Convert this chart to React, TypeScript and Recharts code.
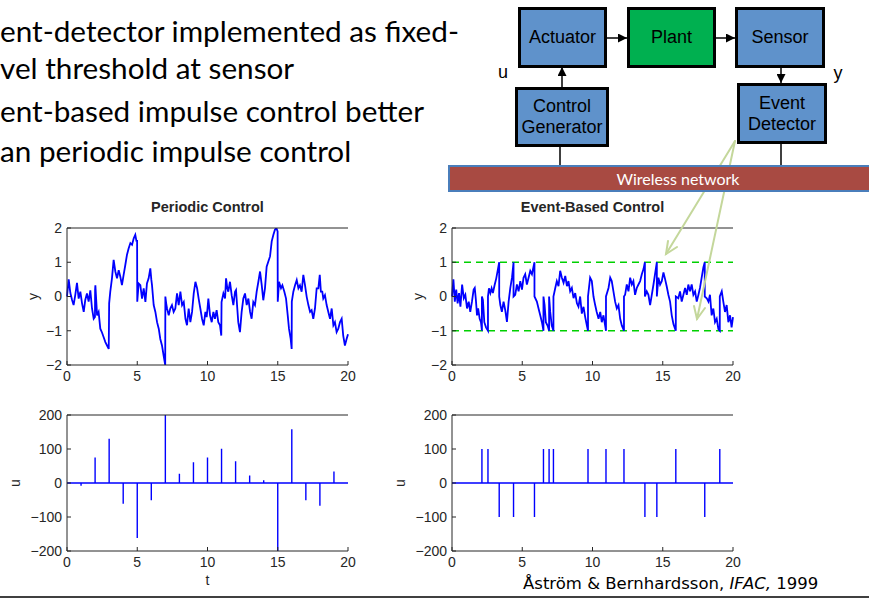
import React from 'react';
import { LineChart, Line, XAxis, YAxis, ReferenceLine, Label } from 'recharts';

// Sampled plant output y(t) under periodic impulse control (period 1)
const periodicOutput: [number, number][] = [
  [0.0, 0.0], [0.12, 0.5], [0.24, 0.1], [0.36, -0.1], [0.47, -0.25], [0.59, 0.05], [0.71, 0.4], [0.83, -0.06],
  [0.95, 0.14], [1.07, -0.2], [1.19, -0.45], [1.3, -0.1], [1.42, 0.09], [1.54, -0.15], [1.66, 0.18], [1.78, -0.35],
  [1.9, -0.65], [1.99, -0.6], [2.0, 0.2], [2.02, 0.33], [2.14, -0.55], [2.25, -0.45], [2.37, -0.94], [2.49, -1.05],
  [2.61, -1.19], [2.73, -1.33], [2.85, -1.43], [2.97, -1.53], [3.0, -0.2], [3.08, 0.14], [3.2, 0.53], [3.32, 1.07],
  [3.44, 0.73], [3.56, 0.53], [3.68, 0.77], [3.8, 0.57], [3.91, 0.33], [4.03, 0.63], [4.15, 0.92], [4.27, 1.22],
  [4.39, 1.41], [4.51, 1.56], [4.63, 1.51], [4.75, 1.7], [4.86, 1.8], [4.95, 1.6], [4.99, 1.65], [5.0, -0.15],
  [5.1, 0.38], [5.22, 0.33], [5.34, -0.06], [5.46, 0.24], [5.58, -0.16], [5.69, 0.38], [5.81, 0.53], [5.93, 0.82],
  [6.0, 0.5], [6.05, 0.33], [6.17, -0.25], [6.29, -0.45], [6.41, -0.75], [6.53, -0.94], [6.64, -1.24], [6.76, -1.43],
  [6.88, -1.73], [6.99, -2.0], [7.0, 0.0], [7.06, -0.2], [7.12, -0.35], [7.24, -0.55], [7.35, -0.35], [7.47, -0.25],
  [7.59, -0.45], [7.71, -0.35], [7.83, 0.09], [7.95, -0.25], [8.07, 0.14], [8.19, -0.25], [8.31, -0.16], [8.43, -0.65],
  [8.54, -0.84], [8.66, -0.35], [8.78, -0.75], [8.9, -0.45], [9.02, 0.09], [9.14, 0.43], [9.26, 0.24], [9.37, -0.06],
  [9.49, -0.35], [9.61, -0.65], [9.73, -0.84], [9.85, -0.45], [9.94, -0.6], [10.0, -0.35], [10.06, -0.06], [10.18, -0.55],
  [10.3, -0.75], [10.42, -0.45], [10.53, -0.65], [10.65, -0.4], [10.77, -0.75], [10.89, -0.84], [10.98, -1.14], [11.0, -0.16],
  [11.13, 0.09], [11.25, -0.06], [11.32, 0.53], [11.41, 0.24], [11.48, 0.14], [11.6, 0.43], [11.72, 0.04], [11.84, -0.25],
  [11.96, 0.14], [12.03, 0.19], [12.12, -0.35], [12.19, -0.75], [12.31, -1.04], [12.43, -0.45], [12.55, -0.06], [12.67, 0.09],
  [12.79, -0.25], [12.91, -0.06], [13.03, -0.45], [13.14, -0.65], [13.26, -0.16], [13.38, -0.25], [13.5, 0.14], [13.62, 0.43],
  [13.74, 0.73], [13.86, 0.33], [13.97, -0.11], [14.09, 0.24], [14.21, 0.87], [14.33, 1.02], [14.45, 1.17], [14.57, 1.61],
  [14.69, 1.8], [14.8, 1.95], [14.9, 2.0], [14.99, 1.9], [15.0, -0.15], [15.09, 0.43], [15.23, 0.24], [15.33, 0.33],
  [15.47, 0.14], [15.59, -0.06], [15.71, -0.55], [15.8, -0.94], [15.92, -1.24], [15.99, -1.53], [16.0, -0.15], [16.11, 0.14],
  [16.23, 0.33], [16.35, 0.48], [16.47, 0.24], [16.58, 0.33], [16.7, 0.14], [16.82, 0.63], [16.94, 0.33], [17.06, -0.01],
  [17.18, -0.25], [17.3, -0.45], [17.41, -0.4], [17.53, -0.65], [17.65, -0.35], [17.77, 0.24], [17.89, 0.24], [17.99, 0.63],
  [18.07, 0.14], [18.17, 0.14], [18.24, -0.06], [18.36, 0.04], [18.48, -0.25], [18.6, -0.45], [18.72, -0.65], [18.84, -0.35],
  [18.96, -0.84], [19.07, -0.75], [19.19, -1.04], [19.31, -0.94], [19.43, -0.75], [19.55, -0.65], [19.66, -1.14], [19.78, -1.43],
  [19.9, -1.24], [20.0, -1.1],
];

// Plant output y(t) when an impulse is fired each time |y| reaches 1
const eventOutput: [number, number][] = [
  [0.0, 0.0], [0.1, 0.5], [0.2, -0.15], [0.3, 0.2], [0.4, -0.2], [0.5, 0.1], [0.6, -0.3], [0.72, 0.35],
  [0.84, -0.05], [0.95, 0.05], [1.07, -0.35], [1.19, -0.15], [1.3, -0.45], [1.42, -0.15], [1.54, 0.2], [1.62, 0.25],
  [1.7, -0.1], [1.78, -0.55], [1.86, -0.35], [1.97, -0.65], [2.06, -0.75], [2.13, -1.0], [2.13, 0.0], [2.2, -0.1],
  [2.3, -0.75], [2.42, -0.9], [2.56, -1.0], [2.56, 0.0], [2.63, 0.24], [2.73, 0.1], [2.82, 0.24], [2.91, 0.1],
  [3.03, 0.33], [3.15, 0.53], [3.27, 0.8], [3.36, 1.0], [3.36, 0.0], [3.44, -0.25], [3.55, -0.45], [3.67, -0.15],
  [3.79, -0.4], [3.91, -0.74], [4.03, -0.15], [4.15, 0.25], [4.27, 0.55], [4.38, 1.0], [4.38, 0.0], [4.5, 0.05],
  [4.62, 0.35], [4.74, 0.15], [4.86, 0.45], [4.98, 0.2], [5.09, 0.55], [5.21, 0.65], [5.33, 0.35], [5.45, 0.55],
  [5.57, 0.75], [5.69, 0.65], [5.87, 1.0], [5.87, 0.0], [6.04, -0.15], [6.16, -0.35], [6.28, -0.55], [6.4, -0.75],
  [6.51, -1.0], [6.51, 0.0], [6.59, -0.25], [6.68, -0.75], [6.8, -0.85], [6.91, -1.0], [6.91, 0.0], [6.99, -0.45],
  [7.1, -0.85], [7.22, -1.0], [7.22, 0.0], [7.35, 0.25], [7.46, 0.45], [7.58, 0.3], [7.7, 0.75], [7.82, 0.55],
  [7.94, 0.4], [8.06, 0.6], [8.18, 0.3], [8.29, 0.45], [8.41, 0.15], [8.53, 0.25], [8.65, -0.05], [8.77, 0.1],
  [8.89, -0.2], [9.0, -0.3], [9.12, 0.0], [9.24, -0.5], [9.36, -0.3], [9.48, -0.6], [9.6, -0.85], [9.68, -1.0],
  [9.68, 0.0], [9.83, 0.55], [9.95, 0.45], [10.07, 0.0], [10.19, -0.25], [10.3, -0.45], [10.43, -0.65], [10.55, -0.45],
  [10.66, -0.75], [10.78, -0.55], [10.9, -0.85], [10.96, -1.0], [10.96, 0.0], [11.14, 0.25], [11.26, 0.55], [11.37, 0.45],
  [11.49, 0.15], [11.61, -0.15], [11.73, -0.35], [11.85, -0.25], [11.97, -0.65], [12.09, -0.85], [12.24, -1.0], [12.24, 0.0],
  [12.32, 0.05], [12.44, 0.35], [12.56, 0.15], [12.68, 0.55], [12.8, 0.35], [12.91, 0.45], [13.03, 0.05], [13.15, 0.25],
  [13.27, 0.35], [13.39, 0.45], [13.51, 0.65], [13.63, 0.8], [13.73, 1.0], [13.73, 0.0], [13.86, 0.15], [13.98, 0.05],
  [14.1, -0.25], [14.22, 0.05], [14.34, 0.35], [14.45, 0.65], [14.58, 1.0], [14.58, 0.0], [14.69, 0.55], [14.81, 0.35],
  [14.93, 0.45], [15.05, 0.7], [15.17, 0.5], [15.28, 0.3], [15.4, 0.05], [15.52, -0.15], [15.64, -0.55], [15.76, -0.8],
  [15.88, -0.95], [15.93, -1.0], [15.93, 0.0], [16.11, -0.05], [16.23, 0.15], [16.35, -0.15], [16.47, 0.05], [16.59, 0.25],
  [16.71, 0.05], [16.82, 0.35], [16.94, 0.15], [17.06, 0.35], [17.18, 0.05], [17.3, 0.15], [17.42, -0.15], [17.54, 0.05],
  [17.65, 0.25], [17.77, 0.55], [17.89, 0.85], [17.99, 1.0], [17.99, 0.0], [18.13, -0.05], [18.25, -0.15], [18.36, 0.05],
  [18.48, -0.55], [18.6, -0.35], [18.72, -0.75], [18.84, -0.65], [18.96, -0.95], [19.06, -1.0], [19.06, 0.0], [19.2, 0.15],
  [19.31, -0.15], [19.43, -0.45], [19.55, -0.25], [19.67, -0.75], [19.79, -0.55], [19.9, -0.9], [20.0, -0.6],
];

// Control impulses u(t)
const periodicImpulseTimes = [1, 2, 3, 4, 5, 6, 7, 8, 9, 10, 11, 12, 13, 14, 15, 16, 17, 18, 19];
const periodicImpulses = [-8, 75, 130, -61, -162, -51, 200, 27, 61, 75, 101, 64, 22, 8, -200, 158, -51, -67, 34];
const eventImpulseTimes = [2.13, 2.56, 3.36, 4.38, 5.87, 6.51, 6.91, 7.22, 9.68, 10.96, 12.24, 13.73, 14.58, 15.93, 17.99, 19.06];
const eventImpulses = [100, 100, -100, -100, -100, 100, 100, 100, 100, 100, 100, -100, -100, 100, -100, 100];

const tTicks = [0, 5, 10, 15, 20];
const yTicks = [-2, -1, 0, 1, 2];
const uTicks = [-200, -100, 0, 100, 200];
const thresholds = [1, -1];

const toRows = (pts: [number, number][]) => pts.map(([t, v]) => ({ t, v }));

// stem plot as a single polyline: baseline -> spike -> baseline
const toStems = (times: number[], amps: number[]) => {
  const rows = [{ t: 0, v: 0 }];
  times.forEach((t, i) => {
    rows.push({ t, v: 0 }, { t, v: amps[i] }, { t, v: 0 });
  });
  rows.push({ t: 20, v: 0 });
  return rows;
};

const INK = '#262626';
const BLUE = '#0000ff';
const PLOT_W = 281;
const FONT = '"Liberation Sans", Arial, Helvetica, sans-serif';
const tickStyle = { fontSize: 14, fill: INK, fontFamily: FONT };
const fmt = (v: number) => String(v).replace('-', '\u2212');

interface PanelProps {
  left: number;
  top: number;
  plotH: number;
  yAxisW: number;
  title?: string;
  xLabel?: string;
  yLabel: string;
  rows: { t: number; v: number }[];
  domain: [number, number];
  ticks: number[];
  dashed?: boolean;
  width?: number;
}

// top edge of the chart sits `topH` px above the plot box
const Panel: React.FC<PanelProps> = ({ left, top, plotH, yAxisW, title, xLabel, yLabel, rows, domain, ticks, dashed, width = 1.8 }) => {
  const topH = title ? 42 : 12;
  const bottomH = xLabel ? 58 : 20;
  const w = yAxisW + PLOT_W + 14;
  const h = topH + plotH + bottomH;
  const axis = { stroke: INK, strokeWidth: 1 };
  return (
    <div style={{ position: 'absolute', left, top: top - topH }}>
      <LineChart width={w} height={h} data={rows} margin={{ top: 0, right: 14, bottom: 0, left: 0 }}>
        <XAxis xAxisId="b" dataKey="t" type="number" domain={[0, 20]} ticks={tTicks} height={bottomH}
          axisLine={axis} tickLine={axis} tickSize={-4} tickMargin={10} tick={tickStyle} interval={0}>
          {xLabel && <Label value={xLabel} position="center" fill={INK} fontSize={14} fontFamily={FONT} />}
        </XAxis>
        <XAxis xAxisId="t" dataKey="t" type="number" orientation="top" domain={[0, 20]} ticks={tTicks} height={topH}
          axisLine={axis} tickLine={axis} tickSize={-4} tick={false} interval={0}>
          {title && <Label value={title} position="center" fill={INK} fontSize={14.5} fontWeight="bold" fontFamily={FONT} />}
        </XAxis>
        <YAxis yAxisId="l" type="number" domain={domain} ticks={ticks} width={yAxisW} allowDataOverflow
          axisLine={axis} tickLine={axis} tickSize={-4} tickMargin={9} tick={tickStyle} tickFormatter={fmt} interval={0}>
          <Label value={yLabel} position="center" angle={-90} fill={INK} fontSize={14} fontFamily={FONT} />
        </YAxis>
        <YAxis yAxisId="r" type="number" orientation="right" domain={domain} ticks={ticks} width={0} allowDataOverflow
          axisLine={axis} tickLine={axis} tickSize={-4} tick={false} interval={0} />
        {dashed && thresholds.map(v => (
          <ReferenceLine key={v} xAxisId="b" yAxisId="l" y={v} stroke="#00d000" strokeWidth={1.3} strokeDasharray="7 5" />
        ))}
        <Line xAxisId="b" yAxisId="l" dataKey="v" type="linear" stroke={BLUE} strokeWidth={width}
          dot={false} isAnimationActive={false} />
      </LineChart>
    </div>
  );
};

const boxBase: React.CSSProperties = {
  position: 'absolute',
  boxSizing: 'border-box',
  border: '3px solid #000',
  background: '#5f92cb',
  display: 'flex',
  alignItems: 'center',
  justifyContent: 'center',
  textAlign: 'center',
  fontFamily: FONT,
  fontSize: 18,
  lineHeight: '21px',
  color: '#000',
};

const bulletText: React.CSSProperties = {
  position: 'absolute',
  left: 0,
  fontFamily: 'Lato, "Open Sans", sans-serif',
  fontSize: 29.7,
  lineHeight: '30px',
  whiteSpace: 'nowrap',
  color: '#000',
};

export default function App() {
  return (
    <div style={{ position: 'absolute', left: 0, top: 0, width: 869, height: 600, overflow: 'hidden', background: '#fff' }}>
      <div style={{ ...bulletText, top: 16 }}>ent-detector implemented as fixed-</div>
      <div style={{ ...bulletText, top: 53 }}>vel threshold at sensor</div>
      <div style={{ ...bulletText, top: 96 }}>ent-based impulse control better</div>
      <div style={{ ...bulletText, top: 136 }}>an periodic impulse control</div>

      {/* `top` is the upper edge of each plot box */}
      <Panel left={-1} top={228} plotH={137} yAxisW={68} title="Periodic Control" yLabel="y"
        rows={toRows(periodicOutput)} domain={[-2, 2]} ticks={yTicks} />
      <Panel left={385} top={228} plotH={137} yAxisW={67} title="Event-Based Control" yLabel="y"
        rows={toRows(eventOutput)} domain={[-2, 2]} ticks={yTicks} dashed />
      <Panel left={-37} top={415} plotH={136} yAxisW={104} xLabel="t" yLabel="u"
        rows={toStems(periodicImpulseTimes, periodicImpulses)} domain={[-200, 200]} ticks={uTicks} width={1.4} />
      <Panel left={349} top={415} plotH={136} yAxisW={103} yLabel="u"
        rows={toStems(eventImpulseTimes, eventImpulses)} domain={[-200, 200]} ticks={uTicks} width={1.4} />

      {/* pointer arrows from the event detector down to the threshold crossings */}
      <svg width={869} height={600} style={{ position: 'absolute', left: 0, top: 0 }}>
        <g stroke="#c4d79b" strokeWidth={2} fill="none" strokeLinecap="round">
          <line x1={735} y1={141} x2={666} y2={254} />
          <polyline points="668,241 666,254 677,247" />
          <line x1={735} y1={141} x2={697} y2={319} />
          <polyline points="694,306 697,319 705,308" />
        </g>
      </svg>

      <div style={{
        position: 'absolute', left: 448, top: 165, width: 460, height: 27, boxSizing: 'border-box',
        background: '#a84a42', border: '2px solid #4a7ebb', color: '#fff', textAlign: 'center',
        fontFamily: 'Lato, sans-serif', fontSize: 16, lineHeight: '23px',
      }}>Wireless network</div>

      <svg width={869} height={200} style={{ position: 'absolute', left: 0, top: 0 }}>
        <defs>
          <marker id="head" viewBox="0 0 10 10" refX="10" refY="5" markerWidth="6" markerHeight="6" orient="auto">
            <path d="M0,0 L10,5 L0,10 z" fill="#000" />
          </marker>
        </defs>
        <g stroke="#000" strokeWidth={1.5}>
          <line x1={607} y1={38} x2={627} y2={38} markerEnd="url(#head)" />
          <line x1={716} y1={38} x2={735} y2={38} markerEnd="url(#head)" />
          <line x1={562} y1={88} x2={562} y2={67} markerEnd="url(#head)" />
          <line x1={781} y1={67} x2={781} y2={83} markerEnd="url(#head)" />
          <line x1={560} y1={147} x2={560} y2={165} />
          <line x1={781} y1={144} x2={781} y2={165} />
        </g>
      </svg>

      <div style={{ ...boxBase, left: 518, top: 7, width: 89, height: 61 }}>Actuator</div>
      <div style={{ ...boxBase, left: 627, top: 7, width: 89, height: 61, background: '#00b050' }}>Plant</div>
      <div style={{ ...boxBase, left: 735, top: 7, width: 90, height: 61 }}>Sensor</div>
      <div style={{ ...boxBase, left: 515, top: 87, width: 94, height: 60 }}>Control<br />Generator</div>
      <div style={{ ...boxBase, left: 737, top: 83, width: 90, height: 61 }}>Event<br />Detector</div>
      <div style={{ ...boxBase, border: 'none', background: 'none', left: 495, top: 60, width: 16, height: 24 }}>u</div>
      <div style={{ ...boxBase, border: 'none', background: 'none', left: 830, top: 61, width: 16, height: 24 }}>y</div>

      <div style={{
        position: 'absolute', left: 523, top: 576, whiteSpace: 'nowrap',
        fontFamily: '"DejaVu Sans", Verdana, sans-serif', fontSize: 16.5, lineHeight: '16.5px', color: '#000',
      }}>
        Åström &amp; Bernhardsson, <i>IFAC,</i> 1999
      </div>
      <div style={{ position: 'absolute', left: 0, top: 596, width: 869, height: 2, background: '#404040' }} />
    </div>
  );
}
